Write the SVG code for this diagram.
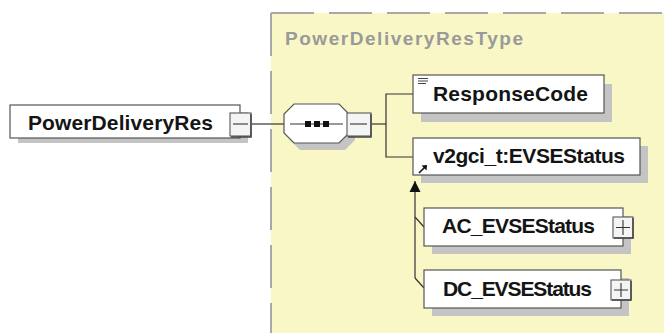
<svg xmlns="http://www.w3.org/2000/svg" width="664" height="333" viewBox="0 0 664 333">
<style>
.box{fill:#fff;stroke:#555;stroke-width:1.2}
.shd{fill:#c4c4c4}
.lbl{font-family:"Liberation Sans",Arial,sans-serif;font-weight:bold;font-size:21px;fill:#141414}
.con{stroke:#333;stroke-width:1.2;fill:none}
.btn{fill:#f4f4f4;stroke:#666;stroke-width:1.2}
.btnd{stroke:#444;stroke-width:1.5;fill:none}
.sym{stroke:#333;stroke-width:1.1;fill:none}
</style>
<defs>
<marker id="ah" markerWidth="12" markerHeight="12" refX="11" refY="5.5" orient="auto" markerUnits="userSpaceOnUse" viewBox="0 0 12 11">
<path d="M0,0 L11,5.5 L0,11 Z" fill="#111"/>
</marker>
</defs>
<rect width="664" height="333" fill="#fff"/>
<g id="complexType">
<rect x="271" y="13" width="400" height="330" fill="#f9f7c6"/>
<path d="M271,13 H664 M271,13 V333" stroke="#a8a8a8" stroke-width="2" stroke-dasharray="43 15" fill="none"/>
<text x="285" y="45" font-family="Liberation Sans,Arial,sans-serif" font-weight="bold" font-size="19" fill="#9a9a9a" textLength="238" lengthAdjust="spacing">PowerDeliveryResType</text>
</g>
<g id="connectors">
<line class="con" x1="252" y1="124" x2="284" y2="124"/>
<line class="con" x1="372" y1="124" x2="386" y2="124"/>
<path class="con" d="M413,94 H386 V157 H413"/>
<path class="con" d="M415,278 V181" marker-end="url(#ah)"/>
<path class="con" d="M415,217 L424,227"/>
<path class="con" d="M415,278 L424,288"/>
</g>
<g id="PowerDeliveryRes">
<rect class="shd" x="18" y="112" width="230" height="31"/>
<rect class="box" x="10" y="105" width="230" height="33"/>
<text class="lbl" x="28" y="130" textLength="185" lengthAdjust="spacing">PowerDeliveryRes</text>
<rect class="btn" x="230" y="113" width="21" height="23"/>
<path class="btnd" d="M251,114 V137 H231"/>
<line class="sym" x1="233" y1="124" x2="248" y2="124"/>
</g>
<g id="sequence">
<polygon class="shd" points="300,111 345,111 355,121 355,140 345,150 300,150 290,140 290,121"/>
<polygon class="box" points="294,104 339,104 349,114 349,133 339,143 294,143 284,133 284,114"/>
<line class="sym" x1="290" y1="124" x2="343" y2="124"/>
<rect x="305" y="121" width="6" height="6" fill="#111"/>
<rect x="314" y="121" width="6" height="6" fill="#111"/>
<rect x="323" y="121" width="6" height="6" fill="#111"/>
<rect class="btn" x="347" y="113" width="24" height="23"/>
<path class="btnd" d="M371,114 V137 H348"/>
<line class="sym" x1="350" y1="124" x2="367" y2="124"/>
</g>
<g id="ResponseCode">
<rect class="shd" x="421" y="84" width="191" height="38"/>
<rect class="box" x="413" y="75" width="191" height="38"/>
<path d="M418,78.5 H428 M418,81 H428 M418,83.5 H426" stroke="#444" stroke-width="1"/>
<text class="lbl" x="433" y="101" textLength="155" lengthAdjust="spacing">ResponseCode</text>
</g>
<g id="EVSEStatus">
<rect class="shd" x="421" y="146" width="227" height="37"/>
<rect class="box" x="413" y="138" width="227" height="37"/>
<path d="M419,173 L426,166" stroke="#111" stroke-width="1.6"/>
<path d="M427,165 L421.5,165.5 L426.5,170.5 Z" fill="#111"/>
<text class="lbl" x="433" y="163" textLength="192" lengthAdjust="spacing">v2gci_t:EVSEStatus</text>
</g>
<g id="AC_EVSEStatus">
<rect class="shd" x="432" y="216" width="199" height="38"/>
<rect class="box" x="424" y="208" width="199" height="38"/>
<text class="lbl" x="442" y="233" textLength="153" lengthAdjust="spacing">AC_EVSEStatus</text>
<rect class="btn" x="613" y="217" width="20" height="21"/>
<path class="btnd" d="M633,218 V238 H614"/>
<path class="sym" d="M616,227.5 H630 M623,220 V235"/>
</g>
<g id="DC_EVSEStatus">
<rect class="shd" x="432" y="278" width="197" height="38"/>
<rect class="box" x="424" y="270" width="197" height="38"/>
<text class="lbl" x="443" y="296" textLength="149" lengthAdjust="spacing">DC_EVSEStatus</text>
<rect class="btn" x="611" y="280" width="20" height="20"/>
<path class="btnd" d="M631,281 V300 H612"/>
<path class="sym" d="M614,290 H628 M621,283 V297"/>
</g>
</svg>
